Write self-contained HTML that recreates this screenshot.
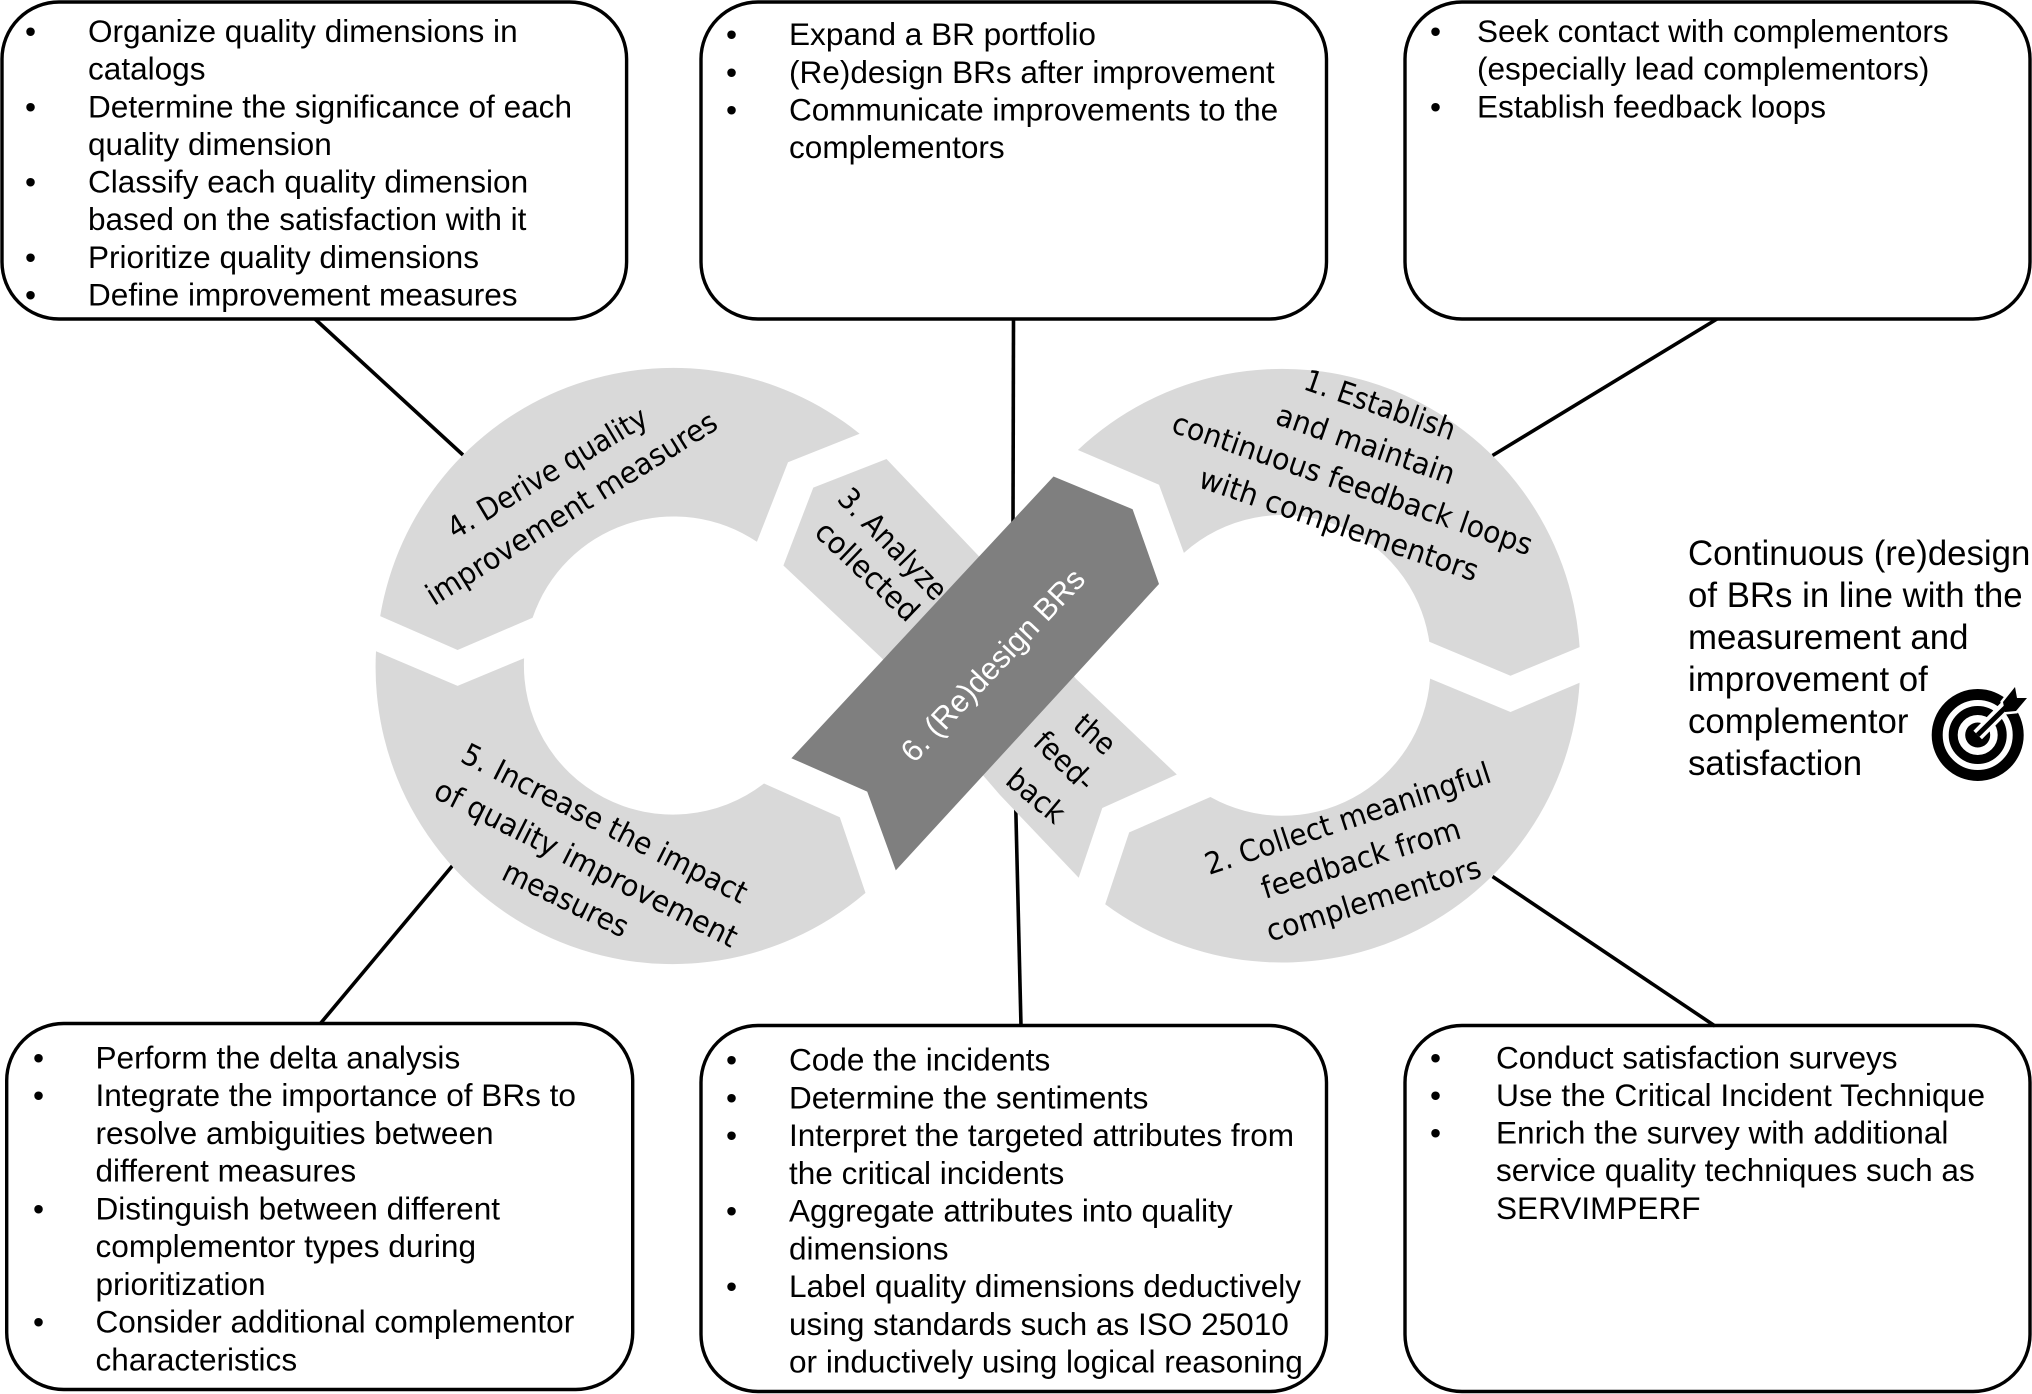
<!DOCTYPE html>
<html><head><meta charset="utf-8"><title>Continuous redesign diagram</title>
<style>
html,body{margin:0;padding:0;background:#fff;width:2032px;height:1394px;overflow:hidden}
svg{display:block}
.t{font-family:"Liberation Sans",Arial,sans-serif;font-size:31.55px;fill:#000}
.r{font-family:"Liberation Sans",Arial,sans-serif;font-size:34.8px;fill:#000}
.d{font-family:"DejaVu Sans",sans-serif;font-size:30px;fill:#000;text-anchor:start}
</style></head><body>
<svg xmlns="http://www.w3.org/2000/svg" width="2032" height="1394" viewBox="0 0 2032 1394">
<!-- connectors -->
<g stroke="#000" stroke-width="3.6" fill="none">
<line x1="315" y1="319" x2="463" y2="455"/>
<line x1="1013.5" y1="319" x2="1013" y2="524"/>
<line x1="1717" y1="319" x2="1492.5" y2="455.5"/>
<line x1="453" y1="865" x2="320" y2="1024"/>
<line x1="1015.6" y1="801" x2="1021" y2="1026"/>
<line x1="1492.5" y1="876.5" x2="1715" y2="1026"/>
</g>
<!-- ring segments -->
<g fill="#d9d9d9">
<path d="M380.2,616.1 L457.6,650 L532.6,617.8 A149,149 0 0 1 756.9,541.8 L788,462.2 L859.6,433.7 A297,297 0 0 0 380.2,616.1Z"/>
<path d="M376,651.2 L457.6,685.9 L524.1,658.2 A149,149 0 0 0 764,783.5 L839.8,817.3 L865.5,892.9 A297,297 0 0 1 376,651.2Z"/>
<path d="M1077.9,450 A298,298 0 0 1 1579.6,647.1 L1510.5,675.7 L1429.3,641.8 A148,148 0 0 0 1183.9,552.9 L1159,484.7Z"/>
<path d="M1579.6,682.7 L1510.5,712 L1430.1,678.6 A148,148 0 0 1 1210.4,797 L1129.2,832.4 L1105.2,904.3 A298,298 0 0 0 1579.6,682.7Z"/>
<path d="M813.3,487.6 L886.5,459 L978.7,556 L1075.8,678.6 L1176.8,774.5 L1102.3,808 L1078.7,877.8 L1000,795 L881.9,658.2 L783.4,565.5Z"/>
</g>
<!-- ring labels -->
<g>
<text class="d" transform="translate(455,539.8) rotate(-30.8)" textLength="227" lengthAdjust="spacingAndGlyphs">4. Derive quality</text>
<text class="d" transform="translate(434,606.3) rotate(-32)" textLength="337" lengthAdjust="spacingAndGlyphs">improvement measures</text>
<text class="d" transform="translate(459,761) rotate(26.9)" textLength="316" lengthAdjust="spacingAndGlyphs">5. Increase the impact</text>
<text class="d" transform="translate(432,797) rotate(26.8)" textLength="335" lengthAdjust="spacingAndGlyphs">of quality improvement</text>
<text class="d" transform="translate(500,878.6) rotate(25.9)" textLength="136" lengthAdjust="spacingAndGlyphs">measures</text>
<text class="d" transform="translate(1302,388.8) rotate(19.1)" textLength="158" lengthAdjust="spacingAndGlyphs">1. Establish</text>
<text class="d" transform="translate(1274,423.5) rotate(19.1)" textLength="187" lengthAdjust="spacingAndGlyphs">and maintain</text>
<text class="d" transform="translate(1170,431.6) rotate(19.1)" textLength="379" lengthAdjust="spacingAndGlyphs">continuous feedback loops</text>
<text class="d" transform="translate(1197,486.7) rotate(18.9)" textLength="293" lengthAdjust="spacingAndGlyphs">with complementors</text>
<text class="d" transform="translate(1209,875) rotate(-18.2)" textLength="299" lengthAdjust="spacingAndGlyphs">2. Collect meaningful</text>
<text class="d" transform="translate(1265,899) rotate(-17.2)" textLength="207" lengthAdjust="spacingAndGlyphs">feedback from</text>
<text class="d" transform="translate(1270,941.8) rotate(-17.1)" textLength="223" lengthAdjust="spacingAndGlyphs">complementors</text>
<text class="d" transform="translate(836,500) rotate(46)" textLength="142" lengthAdjust="spacingAndGlyphs">3. Analyze</text>
<text class="d" transform="translate(813,534) rotate(43.5)" textLength="130" lengthAdjust="spacingAndGlyphs">collected</text>
<text class="d" transform="translate(1071.5,727.6) rotate(41)" textLength="44" lengthAdjust="spacingAndGlyphs">the</text>
<text class="d" transform="translate(1031.6,744) rotate(44)" textLength="71" lengthAdjust="spacingAndGlyphs">feed-</text>
<text class="d" transform="translate(1004,782.7) rotate(40)" textLength="66" lengthAdjust="spacingAndGlyphs">back</text>
</g>
<!-- banner -->
<polygon points="1053.5,476.5 1132.6,509.2 1159,584 895.8,870.4 867.2,791.6 791.4,758.2" fill="#7f7f7f"/>
<text transform="translate(914,764) rotate(-46.7)" font-family="'Liberation Sans',Arial,sans-serif" font-size="31" fill="#fff" textLength="252" lengthAdjust="spacingAndGlyphs">6. (Re)design BRs</text>
<!-- boxes -->
<g fill="none" stroke="#000" stroke-width="3.4">
<rect x="2" y="2" width="624.6" height="317" rx="57" ry="57"/>
<rect x="701" y="2" width="625.5" height="317" rx="57" ry="57"/>
<rect x="1405" y="2" width="625" height="317" rx="57" ry="57"/>
<rect x="6.7" y="1023.5" width="626" height="366" rx="57" ry="57"/>
<rect x="701" y="1025.5" width="625.5" height="366" rx="57" ry="57"/>
<rect x="1405" y="1025.5" width="625" height="366" rx="57" ry="57"/>
</g>
<!-- Top-left -->
<g>
<text class="t" x="25" y="42">•</text><text class="t" x="88" y="42">Organize quality dimensions in</text>
<text class="t" x="88" y="79.7">catalogs</text>
<text class="t" x="25" y="117.5">•</text><text class="t" x="88" y="117.5">Determine the significance of each</text>
<text class="t" x="88" y="155">quality dimension</text>
<text class="t" x="25" y="192.5">•</text><text class="t" x="88" y="192.5">Classify each quality dimension</text>
<text class="t" x="88" y="230.2">based on the satisfaction with it</text>
<text class="t" x="25" y="268">•</text><text class="t" x="88" y="268">Prioritize quality dimensions</text>
<text class="t" x="25" y="305.7">•</text><text class="t" x="88" y="305.7">Define improvement measures</text>
</g>
<!-- Top-center -->
<g>
<text class="t" x="726" y="45">•</text><text class="t" x="789" y="45">Expand a BR portfolio</text>
<text class="t" x="726" y="83">•</text><text class="t" x="789" y="83">(Re)design BRs after improvement</text>
<text class="t" x="726" y="120.5">•</text><text class="t" x="789" y="120.5">Communicate improvements to the</text>
<text class="t" x="789" y="158.2">complementors</text>
</g>
<!-- Top-right -->
<g>
<text class="t" x="1430" y="42">•</text><text class="t" x="1477" y="42">Seek contact with complementors</text>
<text class="t" x="1477" y="79.7">(especially lead complementors)</text>
<text class="t" x="1430" y="117.5">•</text><text class="t" x="1477" y="117.5">Establish feedback loops</text>
</g>
<!-- Bottom-left -->
<g>
<text class="t" x="33" y="1068.3">•</text><text class="t" x="95.5" y="1068.3">Perform the delta analysis</text>
<text class="t" x="33" y="1106">•</text><text class="t" x="95.5" y="1106">Integrate the importance of BRs to</text>
<text class="t" x="95.5" y="1143.8">resolve ambiguities between</text>
<text class="t" x="95.5" y="1181.5">different measures</text>
<text class="t" x="33" y="1219.3">•</text><text class="t" x="95.5" y="1219.3">Distinguish between different</text>
<text class="t" x="95.5" y="1257">complementor types during</text>
<text class="t" x="95.5" y="1294.8">prioritization</text>
<text class="t" x="33" y="1332.5">•</text><text class="t" x="95.5" y="1332.5">Consider additional complementor</text>
<text class="t" x="95.5" y="1370.3">characteristics</text>
</g>
<!-- Bottom-center -->
<g>
<text class="t" x="726" y="1070.7">•</text><text class="t" x="789" y="1070.7">Code the incidents</text>
<text class="t" x="726" y="1108.4">•</text><text class="t" x="789" y="1108.4">Determine the sentiments</text>
<text class="t" x="726" y="1146.2">•</text><text class="t" x="789" y="1146.2">Interpret the targeted attributes from</text>
<text class="t" x="789" y="1184">the critical incidents</text>
<text class="t" x="726" y="1221.7">•</text><text class="t" x="789" y="1221.7">Aggregate attributes into quality</text>
<text class="t" x="789" y="1259.4">dimensions</text>
<text class="t" x="726" y="1297.2">•</text><text class="t" x="789" y="1297.2">Label quality dimensions deductively</text>
<text class="t" x="789" y="1335">using standards such as ISO 25010</text>
<text class="t" x="789" y="1372.7">or inductively using logical reasoning</text>
</g>
<!-- Bottom-right -->
<g>
<text class="t" x="1430" y="1068.3">•</text><text class="t" x="1496" y="1068.3">Conduct satisfaction surveys</text>
<text class="t" x="1430" y="1106">•</text><text class="t" x="1496" y="1106" textLength="489" lengthAdjust="spacingAndGlyphs">Use the Critical Incident Technique</text>
<text class="t" x="1430" y="1143.6">•</text><text class="t" x="1496" y="1143.6">Enrich the survey with additional</text>
<text class="t" x="1496" y="1181.2">service quality techniques such as</text>
<text class="t" x="1496" y="1218.8">SERVIMPERF</text>
</g>
<!-- Right text -->
<g>
<text class="r" x="1688" y="565">Continuous (re)design</text>
<text class="r" x="1688" y="607">of BRs in line with the</text>
<text class="r" x="1688" y="649">measurement and</text>
<text class="r" x="1688" y="691">improvement of</text>
<text class="r" x="1688" y="733">complementor</text>
<text class="r" x="1688" y="775">satisfaction</text>
</g>
<!-- Target icon -->
<g>
<circle cx="1977.7" cy="735" r="40.5" fill="none" stroke="#000" stroke-width="11"/>
<circle cx="1977.7" cy="735" r="24.5" fill="none" stroke="#000" stroke-width="9"/>
<circle cx="1977.7" cy="735" r="12.5" fill="#000"/>
<line x1="1977.7" y1="735" x2="2012" y2="700" stroke="#fff" stroke-width="12"/>
<polygon points="2003,702 2015,687 2017,698 2027,698 2016,711 2005,712" fill="#fff" stroke="#fff" stroke-width="5"/>
<line x1="1977.7" y1="735" x2="2008" y2="705" stroke="#000" stroke-width="5"/>
<polygon points="2003,702 2015,687 2017,698 2027,698 2016,711 2005,712" fill="#000"/>
</g>
</svg>
</body></html>
